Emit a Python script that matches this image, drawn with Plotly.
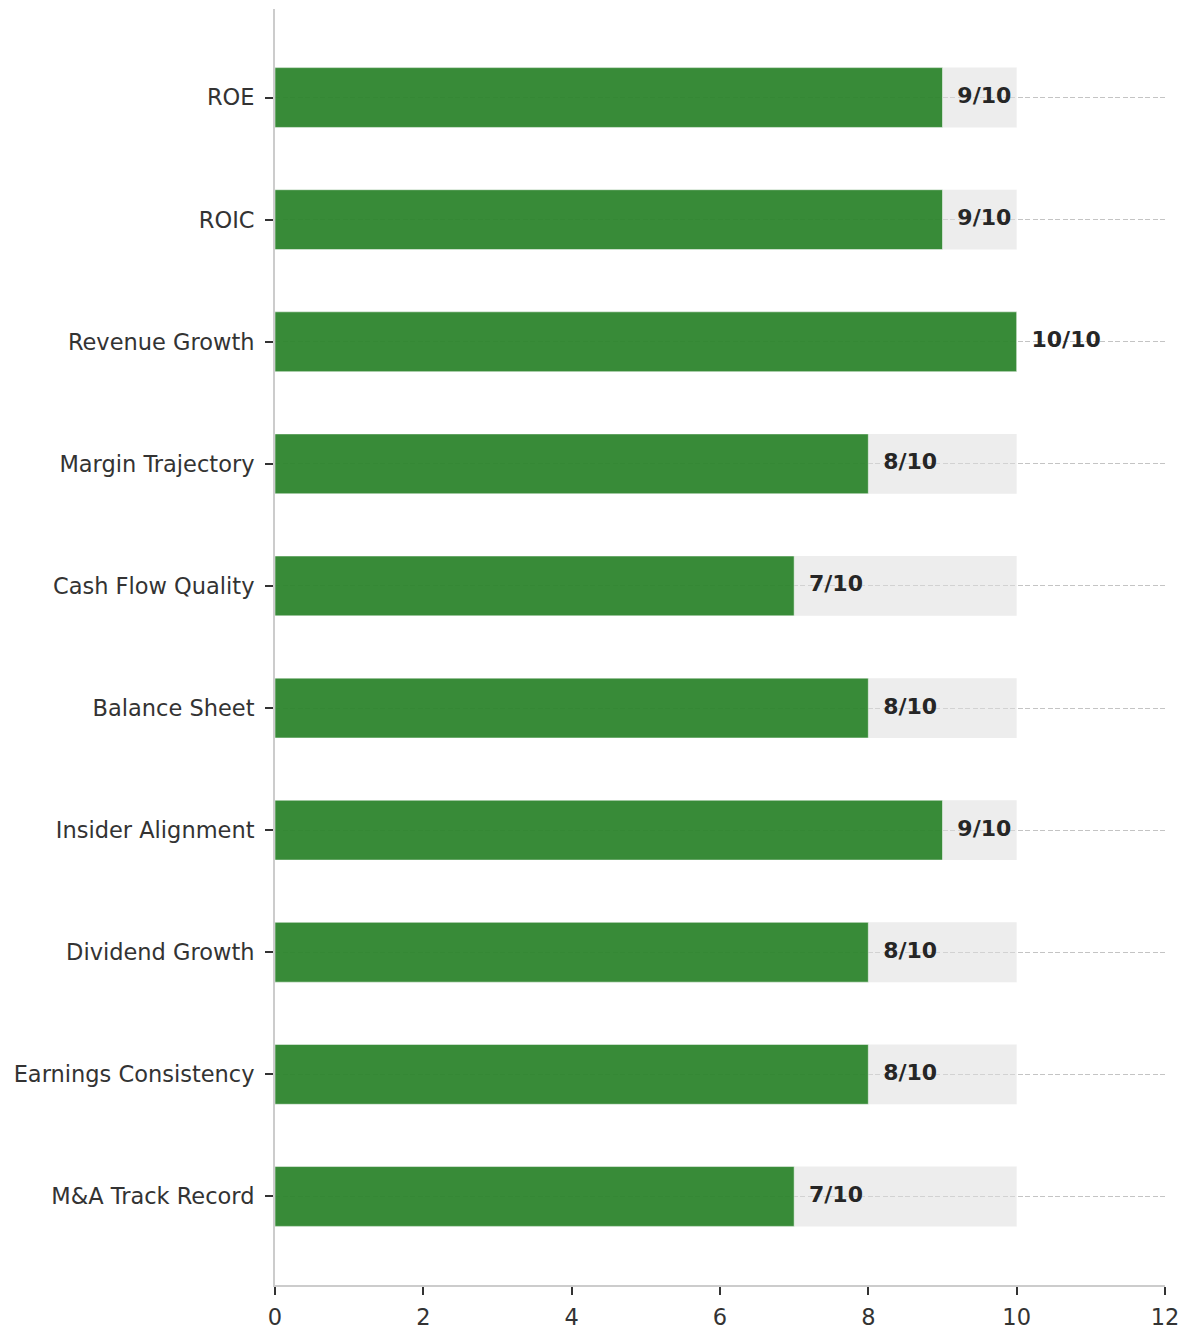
import plotly.graph_objects as go

categories = ["ROE", "ROIC", "Revenue Growth", "Margin Trajectory", "Cash Flow Quality",
              "Balance Sheet", "Insider Alignment", "Dividend Growth",
              "Earnings Consistency", "M&A Track Record"]
scores = [9, 9, 10, 8, 7, 8, 9, 8, 8, 7]
max_score = [10] * len(categories)
labels = [f"{s}/10" for s in scores]
x_ticks = [0, 2, 4, 6, 8, 10, 12]

FONT = "DejaVu Sans"

fig = go.Figure()
fig.add_trace(go.Bar(
    y=categories, x=max_score, orientation="h", width=0.49,
    marker=dict(color="rgba(222,222,222,0.55)", line=dict(width=0)),
    hoverinfo="skip", showlegend=False,
))
fig.add_trace(go.Bar(
    y=categories, x=scores, orientation="h", width=0.49,
    marker=dict(color="rgba(35,128,35,0.9)", line=dict(color="rgba(255,255,255,0.5)", width=1)),
    showlegend=False,
))
fig.add_trace(go.Scatter(
    y=categories, x=[s + 0.2 for s in scores], mode="text", text=labels,
    textposition="middle right",
    textfont=dict(family=FONT, size=22, color="#262626", weight="bold"),
    showlegend=False, hoverinfo="skip",
))

fig.update_layout(
    barmode="overlay",
    width=1180, height=1323,
    margin=dict(l=267, r=23, t=1, b=42),
    plot_bgcolor="white", paper_bgcolor="white",
    font=dict(family=FONT, size=22, color="#333333"),
)
fig.update_xaxes(
    range=[0, 12], tickvals=x_ticks, showgrid=False, zeroline=False,
    showline=True, linecolor="#cccccc", linewidth=2,
    ticks="outside", ticklen=8, tickwidth=2, tickcolor="#333333",
    ticklabelstandoff=3,
    tickfont=dict(family=FONT, size=22.5, color="#333333"),
)
fig.update_yaxes(
    type="category", range=[9.725, -0.725],
    showgrid=True, gridcolor="#c4c4c4", griddash="5px,2.5px", gridwidth=1.2,
    showline=True, linecolor="#cccccc", linewidth=2,
    ticks="outside", ticklen=8, tickwidth=2, tickcolor="#333333",
    ticklabelstandoff=6,
    tickfont=dict(family=FONT, size=22.5, color="#333333"),
    zeroline=False,
)

fig.write_html("out.html")
